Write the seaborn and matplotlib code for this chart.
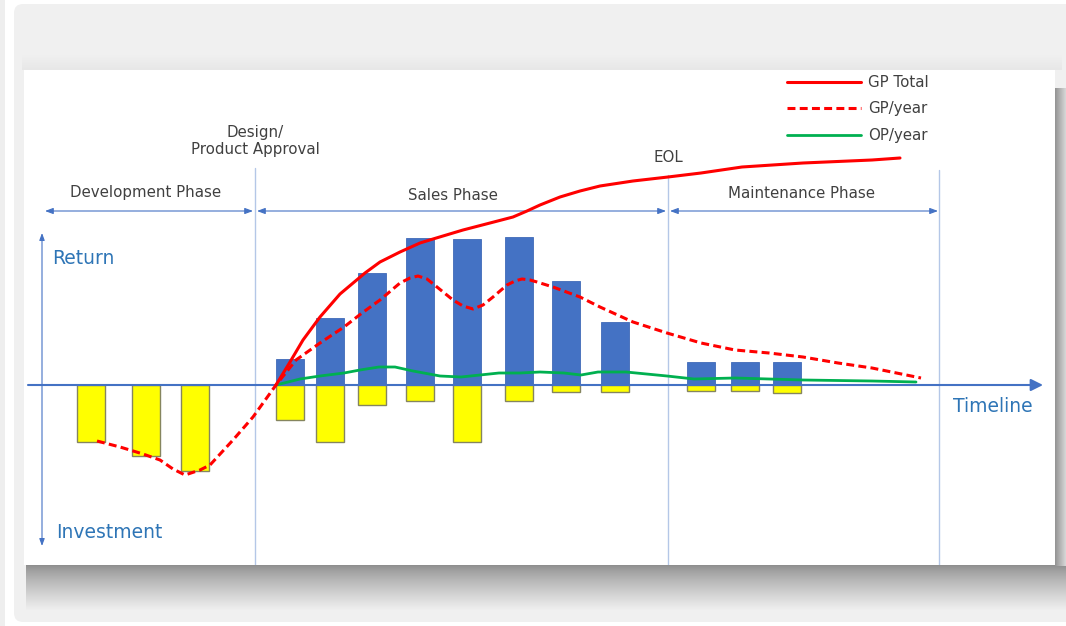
import numpy as np
import pandas as pd
import matplotlib
matplotlib.use("Agg")
import matplotlib.pyplot as plt
import seaborn as sns
from matplotlib.patches import FancyBboxPatch, Rectangle
from matplotlib.lines import Line2D

# ---------------- data (time units on x, value units on y) ----------------
dev_x = [6.7, 12.2, 17.1]
dev_invest = [-5.7, -7.1, -8.6]

sales_x = [26.6, 30.6, 34.8, 39.6, 44.3, 49.5, 54.2, 59.1]
sales_return = [2.6, 6.7, 11.2, 14.7, 14.6, 14.8, 10.4, 6.3]
sales_invest = [-3.5, -5.7, -2.0, -1.6, -5.7, -1.6, -0.7, -0.7]

maint_x = [67.7, 72.1, 76.3]
maint_return = [2.3, 2.3, 2.3]
maint_invest = [-0.6, -0.6, -0.8]

gp_total_x = [25.2, 26.6, 27.9, 29.6, 31.6, 34.1, 35.6, 37.6, 39.6, 40.9, 43.9, 46.6,
              48.9, 50.3, 51.6, 53.6, 55.6, 57.6, 60.9, 64.4, 67.7, 71.8, 77.9, 84.8, 87.6]
gp_total_y = [0.0, 2.3, 4.5, 6.8, 9.1, 11.2, 12.3, 13.3, 14.2, 14.6, 15.5, 16.2,
              16.8, 17.4, 18.0, 18.8, 19.4, 19.9, 20.4, 20.8, 21.2, 21.8, 22.2, 22.5, 22.7]

gp_year_x = [7.3, 9.6, 11.9, 13.6, 14.9, 16.1, 17.6, 18.6, 20.9, 22.9, 25.2,
             27.2, 29.6, 32.0, 33.8, 35.6, 37.6, 38.6, 39.4, 40.3, 41.3, 42.9,
             43.9, 44.9, 45.9, 46.9, 48.3, 49.1, 49.8, 50.6, 51.3, 52.9, 55.6,
             57.6, 60.9, 64.3, 67.7, 71.1, 74.5, 77.9, 81.4, 84.8, 89.7]
gp_year_y = [-5.6, -6.2, -6.9, -7.5, -8.4, -9.0, -8.5, -8.0, -5.5, -3.2, 0.0,
             2.5, 4.2, 5.8, 7.2, 8.5, 10.2, 10.7, 10.9, 10.6, 9.8, 8.5,
             7.9, 7.6, 8.0, 8.8, 10.0, 10.4, 10.6, 10.5, 10.3, 9.8, 8.8,
             7.8, 6.3, 5.2, 4.2, 3.5, 3.2, 2.8, 2.2, 1.7, 0.7]

op_year_x = [25.2, 27.6, 29.6, 32.0, 33.6, 35.5, 37.1, 38.9, 41.6, 43.7, 45.6, 47.5,
             49.6, 51.6, 54.0, 55.7, 57.4, 60.2, 64.3, 67.0, 71.1, 77.9, 84.8, 89.2]
op_year_y = [0.0, 0.6, 0.9, 1.2, 1.5, 1.8, 1.8, 1.4, 0.9, 0.8, 1.0, 1.2,
             1.2, 1.3, 1.2, 1.0, 1.3, 1.3, 0.9, 0.6, 0.7, 0.5, 0.4, 0.3]

phase_labels = ["Development Phase", "Sales Phase", "Maintenance Phase"]
legend_labels = ["GP Total", "GP/year", "OP/year"]

# ---------------- styling ----------------
sns.set_theme(style="white")
plt.rcParams['font.family'] = ['DejaVu Sans']

W, H = 1066, 626
fig = plt.figure(figsize=(W / 100, H / 100), dpi=100)
fig.patch.set_facecolor('white')

# background frame with drop shadow
bg = fig.add_axes([0, 0, 1, 1], zorder=0)
bg.set_xlim(0, W)
bg.set_ylim(H, 0)
bg.axis('off')
bg.add_patch(Rectangle((0, 0), 5, H, color='#eeeeee', lw=0))
bg.add_patch(FancyBboxPatch((14, 4), 1070, 618,
                            boxstyle='round,pad=0,rounding_size=9',
                            color='#f0f0f0', lw=0))
for i in range(16):
    g = 0.94 - 0.035 * i / 15
    bg.add_patch(Rectangle((22, 54 + i), 1040, 1.05, color=(g, g, g), lw=0))
for i in range(46):
    g = (0x8e + (0xf0 - 0x8e) * (i / 45) ** 0.8) / 255
    bg.add_patch(Rectangle((26, 565 + i), 1040, 1.05, color=(g, g, g), lw=0))
for j in range(11):
    g = (0x95 + (0xd5 - 0x95) * j / 10) / 255
    bg.add_patch(Rectangle((1055 + j, 88), 1.05, 478, color=(g, g, g), lw=0))
bg.add_patch(Rectangle((24, 70), 1031, 495, color='white', lw=0))

ax = fig.add_axes([24 / W, (H - 565) / H, 1031 / W, 495 / H], zorder=2)
ax.set_xlim(0, 103.1)
ax.set_ylim(-18.0, 31.5)
ax.patch.set_alpha(0)


def X(px):
    return (px - 24) / 10


def Y(py):
    return (385 - py) / 10


BLUE = '#4472C4'
YELLOW = '#FFFF00'
RED = '#FF0000'
GREEN = '#00B050'
AXBLUE = '#4472C4'
TXT = '#404040'
LBLUE = '#2E75B6'
DASH = (0, (2.6, 1.4))

# bars
ret_df = pd.DataFrame({'t': sales_x + maint_x, 'v': sales_return + maint_return})
inv_df = pd.DataFrame({'t': dev_x + sales_x + maint_x,
                       'v': dev_invest + sales_invest + maint_invest})
bar_w = 2.8
w_ret = bar_w / np.diff(np.sort(ret_df['t'].values)).min()
w_inv = bar_w / np.diff(np.sort(inv_df['t'].values)).min()
sns.barplot(data=ret_df, x='t', y='v', native_scale=True, width=w_ret,
            color=BLUE, saturation=1, errorbar=None, edgecolor='#3F6AB8',
            linewidth=0.6, ax=ax, zorder=2)
sns.barplot(data=inv_df, x='t', y='v', native_scale=True, width=w_inv,
            color=YELLOW, saturation=1, errorbar=None, edgecolor='#85855f',
            linewidth=1.0, ax=ax, zorder=2)

# timeline axis
ax.annotate('', xy=(X(1043), 0), xytext=(X(28), 0),
            arrowprops=dict(arrowstyle='-|>,head_length=0.6,head_width=0.3',
                            color=AXBLUE, lw=1.5, shrinkA=0, shrinkB=0),
            zorder=3)
# return / investment axis
ax.annotate('', xy=(X(42), Y(233)), xytext=(X(42), Y(546)),
            arrowprops=dict(arrowstyle='<|-|>,head_length=0.35,head_width=0.13',
                            color=AXBLUE, lw=0.8, shrinkA=0, shrinkB=0))
# dividers
for px, top in [(255, 168), (668, 175), (939, 170)]:
    ax.plot([X(px), X(px)], [Y(top), -18.0], color='#B4C7E7', lw=1.0, zorder=1)
# phase arrows
for a, b in [(45, 253), (257, 666), (670, 938)]:
    ax.annotate('', xy=(X(b), Y(211)), xytext=(X(a), Y(211)),
                arrowprops=dict(arrowstyle='<|-|>,head_length=0.4,head_width=0.15',
                                color=AXBLUE, lw=0.8, shrinkA=0, shrinkB=0))

# lines
sns.lineplot(x=op_year_x, y=op_year_y, color=GREEN, lw=2.0, ax=ax, zorder=4,
             solid_joinstyle='round')
sns.lineplot(x=gp_year_x, y=gp_year_y, color=RED, lw=2.2, linestyle=DASH,
             ax=ax, zorder=5, dash_joinstyle='round')
sns.lineplot(x=gp_total_x, y=gp_total_y, color=RED, lw=2.2, ax=ax, zorder=6,
             solid_joinstyle='round')

# texts
fs = 10.8
ax.text(X(146), Y(193), phase_labels[0], ha='center', va='center', fontsize=fs, color=TXT)
ax.text(X(453), Y(196), phase_labels[1], ha='center', va='center', fontsize=fs, color=TXT)
ax.text(X(802), Y(194), phase_labels[2], ha='center', va='center', fontsize=fs, color=TXT)
ax.text(X(255), Y(141), "Design/\nProduct Approval", ha='center', va='center',
        fontsize=fs, color=TXT, linespacing=1.15)
ax.text(X(668), Y(158), "EOL", ha='center', va='center', fontsize=fs, color=TXT)
ax.text(X(52), Y(259), "Return", ha='left', va='center', fontsize=13.5, color=LBLUE)
ax.text(X(56), Y(533), "Investment", ha='left', va='center', fontsize=13.5, color=LBLUE)
ax.text(X(1033), Y(407), "Timeline", ha='right', va='center', fontsize=13.5, color=LBLUE)

# legend
handles = [Line2D([], [], color=RED, lw=2.2),
           Line2D([], [], color=RED, lw=2.2, linestyle=DASH),
           Line2D([], [], color=GREEN, lw=2.0)]
ax.legend(handles, legend_labels, loc='upper left',
          bbox_to_anchor=(787 / W, 1 - 75 / H), bbox_transform=fig.transFigure,
          frameon=False, borderpad=0, borderaxespad=0, handlelength=4.9,
          handletextpad=0.5, labelspacing=0.76, fontsize=fs, labelcolor=TXT)

ax.set_xlabel('')
ax.set_ylabel('')
ax.axis('off')

fig.savefig('out.png', dpi=100)
